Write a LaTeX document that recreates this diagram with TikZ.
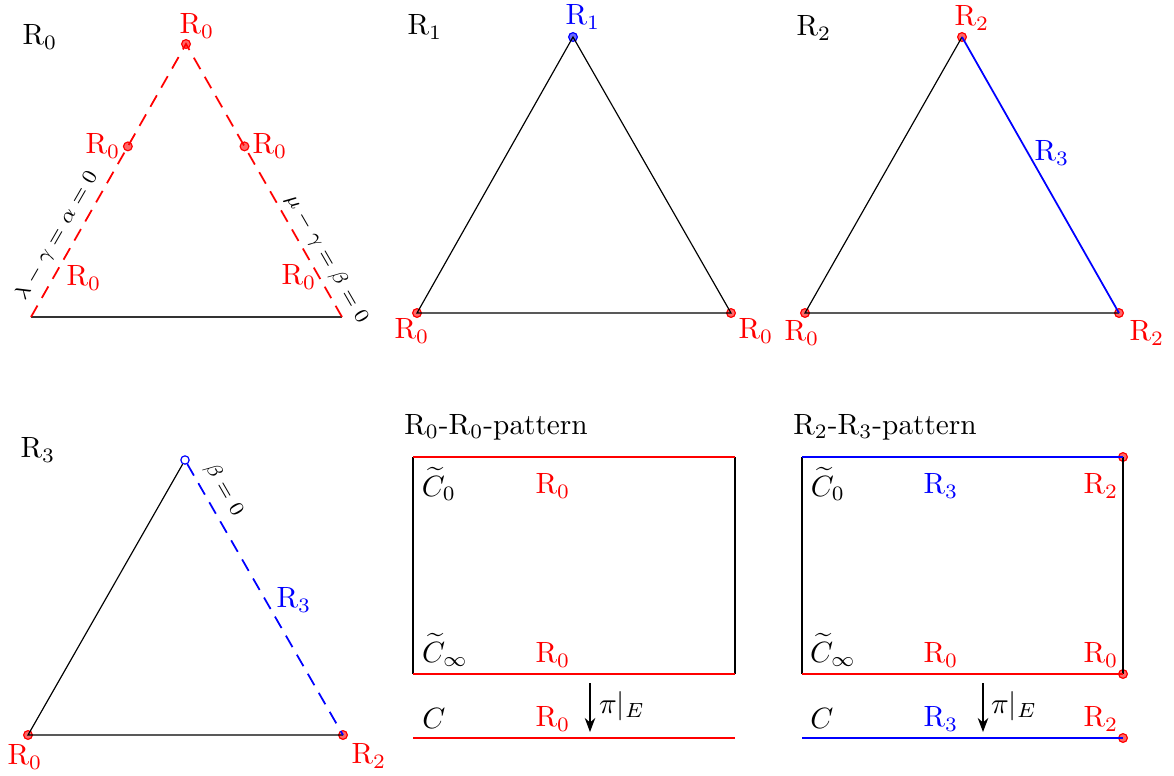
\documentclass[tikz,border=0pt]{standalone}
\usepackage{amsmath}
\usepackage{amssymb}
\usetikzlibrary{arrows.meta,calc}

\begin{document}
\begin{tikzpicture}[x=0.012cm,y=-0.012cm,
  rdot/.style={circle,draw=red,fill=red,fill opacity=0.6,draw opacity=1,inner sep=0pt,minimum size=0.105cm},
  bdot/.style={circle,draw=blue,fill=blue,fill opacity=0.6,draw opacity=1,inner sep=0pt,minimum size=0.105cm},
  odot/.style={circle,draw=blue,fill=white,inner sep=0pt,minimum size=0.1cm},
  dashline/.style={dash pattern=on 4.5pt off 3pt},
  eqlabel/.style={font=\scriptsize,inner sep=1pt}]
\useasboundingbox (0,0) rectangle (1174,775);
% triangle R_0
\node (h0) at (40,37) {$\mathrm{R}_0$};
\node (a1) at (31,317) {};
\node (a2) at (342,317) {};
\node[rdot] (a3) at (186,44) {};
\node[rdot] (a4) at ($(a3.center)!0.375!(a1.center)$) {};
\node[rdot] (a5) at ($(a3.center)!0.375!(a2.center)$) {};
\draw[thin,black!80] (a1.center) -- (a2.center);
\draw[red,semithick,dashline] (a1.center) -- (a3.center) -- (a2.center);
\node[red] (ta3) at (197,26) {$\mathrm{R}_0$};
\node[red] (ta4) at (103,146) {$\mathrm{R}_0$};
\node[red] (ta5) at (270,146) {$\mathrm{R}_0$};
\node[red] (ta1) at (84,278) {$\mathrm{R}_0$};
\node[red] (ta2) at (299,277) {$\mathrm{R}_0$};
\node[eqlabel,rotate=60] (e1) at (57,236) {$\lambda-\gamma=\alpha=0$};
\node[eqlabel,rotate=-60] (e2) at (327,259) {$\mu-\gamma=\beta=0$};
% triangle R_1
\node (h1) at (425,27) {$\mathrm{R}_1$};
\node[rdot] (b1) at (417,313) {};
\node[rdot] (b2) at (731,313) {};
\node[bdot] (b3) at (573,37) {};
\draw[thin] (b1.center) -- (b2.center) -- (b3.center) -- cycle;
\node[red] (tb1) at (412,331) {$\mathrm{R}_0$};
\node[red] (tb2) at (756,331) {$\mathrm{R}_0$};
\node[blue] (tb3) at (583,17) {$\mathrm{R}_1$};
% triangle R_2
\node (h2) at (814,28) {$\mathrm{R}_2$};
\node[rdot] (c1) at (805,313) {};
\node[rdot] (c2) at (1119,313) {};
\node[rdot] (c3) at (962,37) {};
\draw[thin] (c2.center) -- (c1.center) -- (c3.center);
\draw[blue,semithick] (c3.center) -- (c2.center);
\node[red] (tc1) at (802,333) {$\mathrm{R}_0$};
\node[red] (tc2) at (1147,333) {$\mathrm{R}_2$};
\node[red] (tc3) at (972,18) {$\mathrm{R}_2$};
\node[blue] (tc4) at (1052,153) {$\mathrm{R}_3$};
% triangle R_3
\node (h3) at (38,450) {$\mathrm{R}_3$};
\node[rdot] (d1) at (28,735) {};
\node[rdot] (d2) at (343,735) {};
\node[odot] (d3) at (185,460) {};
\draw[thin] (d2.center) -- (d1.center) -- (d3);
\draw[blue,semithick,dashline] (d3) -- (d2.center);
\node[red] (td1) at (25,757) {$\mathrm{R}_0$};
\node[red] (td2) at (369,756) {$\mathrm{R}_2$};
\node[blue] (td4) at (294,600) {$\mathrm{R}_3$};
\node[eqlabel,rotate=-60] (e3) at (224,490) {$\beta=0$};
% R_0-R_0-pattern
\node (g1) at (496,427) {R$_0$-R$_0$-pattern};
\coordinate (p1) at (413,457);
\coordinate (p2) at (735,457);
\coordinate (p3) at (735,674);
\coordinate (p4) at (413,674);
\coordinate (q1) at (413,738);
\coordinate (q2) at (735,738);
\draw[thin] (p1) -- (p4) (p2) -- (p3);
\draw[red,semithick] (p1) -- (p2) (p4) -- (p3) (q1) -- (q2);
\node (u1) at (439,484) {$\widetilde{C}_0$};
\node (u2) at (445,650) {$\widetilde{C}_\infty$};
\node (u3) at (434,718) {$C$};
\node[red] (v1) at (553,486) {$\mathrm{R}_0$};
\node[red] (v2) at (553,655) {$\mathrm{R}_0$};
\node[red] (v3) at (553,719) {$\mathrm{R}_0$};
\coordinate (s1) at (590,683);
\coordinate (s2) at (590,732);
\draw[-{Stealth}] (s1) -- (s2);
\node (w1) at (622,706) {$\pi|_E$};
% R_2-R_3-pattern
\node (g2) at (885,427) {R$_2$-R$_3$-pattern};
\coordinate (m1) at (802,457);
\node[rdot] (m2) at (1123,457) {};
\node[rdot] (m3) at (1123,674) {};
\coordinate (m4) at (802,674);
\coordinate (n1) at (802,738);
\node[rdot] (n2) at (1123,738) {};
\draw[thin] (m1) -- (m4) (m2.center) -- (m3.center);
\draw[blue,semithick] (m1) -- (m2.center) (n1) -- (n2.center);
\draw[red,semithick] (m4) -- (m3.center);
\node (x1) at (828,484) {$\widetilde{C}_0$};
\node (x2) at (833,650) {$\widetilde{C}_\infty$};
\node (x3) at (822,718) {$C$};
\node[blue] (y1) at (941,486) {$\mathrm{R}_3$};
\node[red] (y2) at (941,655) {$\mathrm{R}_0$};
\node[blue] (y3) at (941,719) {$\mathrm{R}_3$};
\node[red] (z1) at (1101,486) {$\mathrm{R}_2$};
\node[red] (z2) at (1101,655) {$\mathrm{R}_0$};
\node[red] (z3) at (1101,719) {$\mathrm{R}_2$};
\coordinate (k1) at (983,683);
\coordinate (k2) at (983,732);
\draw[-{Stealth}] (k1) -- (k2);
\node (w2) at (1014,706) {$\pi|_E$};
\end{tikzpicture}
\end{document}
